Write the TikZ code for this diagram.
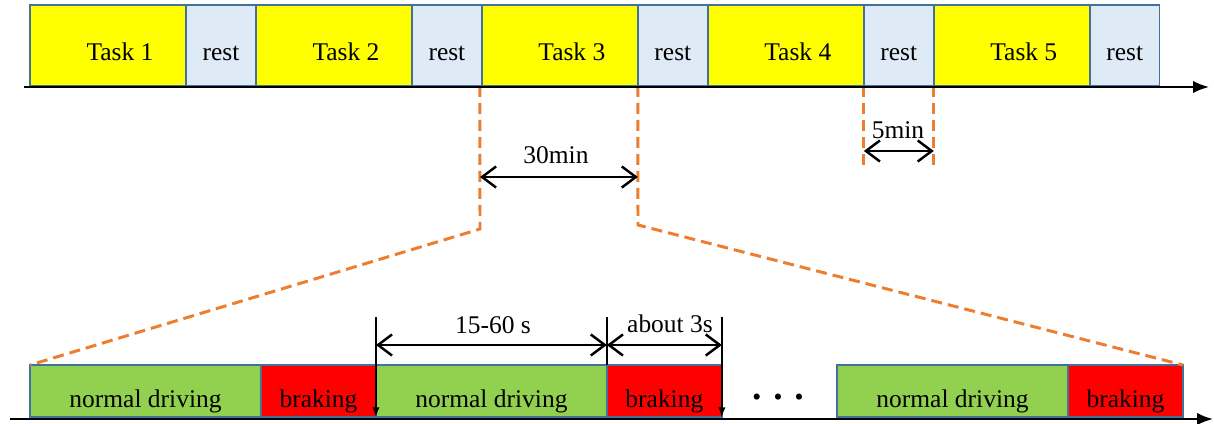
\documentclass[tikz,border=0pt]{standalone}
\usepackage{fontspec}
\setmainfont{Liberation Serif}
\usetikzlibrary{positioning,arrows.meta}

\definecolor{taskyellow}{HTML}{FFFF00}
\definecolor{restblue}{HTML}{DEEBF7}
\definecolor{drivegreen}{HTML}{92D050}
\definecolor{brakered}{HTML}{FF0000}
\definecolor{edgeblue}{HTML}{41719C}
\definecolor{zoomorange}{HTML}{ED7D31}

\tikzset{
  seg/.style={draw=edgeblue, line width=0.8pt, inner sep=0pt, outer sep=0pt,
    anchor=north west, text depth=0pt},
  taskbox/.style={seg, fill=taskyellow, minimum width=3.12cm, minimum height=1.62cm,
    text height=17.4pt, execute at begin node={\hspace*{0.48cm}}},
  restbox/.style={seg, fill=restblue, minimum width=1.4cm, minimum height=1.62cm,
    text height=17.4pt},
  drivebox/.style={seg, fill=drivegreen, minimum width=4.62cm, minimum height=1.04cm,
    text height=19.3pt},
  brakebox/.style={seg, fill=brakered, minimum width=2.3cm, minimum height=1.04cm,
    text height=19.3pt},
  axisline/.style={line width=1.2pt, -{Latex[length=9pt,width=7pt]}},
  dimline/.style={line width=1.4pt, {Straight Barb[length=8pt,width=12pt]}-{Straight Barb[length=8pt,width=12pt]}},
  zoomline/.style={zoomorange, line width=1.7pt, dash pattern=on 0.22cm off 0.12cm},
  marker/.style={line width=0.9pt, -latex}
}

\begin{document}
\begin{tikzpicture}[x=0.02cm, y=-0.02cm, font=\fontsize{14.5}{17}\selectfont]
  \useasboundingbox (0,0) rectangle (1214,423);

  % tasks and rests
  \node[taskbox] (t1) at (30,5) {Task 1};
  \node[restbox, right=0pt of t1] (r1) {rest};
  \node[taskbox, right=0pt of r1] (t2) {Task 2};
  \node[restbox, right=0pt of t2] (r2) {rest};
  \node[taskbox, right=0pt of r2] (t3) {Task 3};
  \node[restbox, right=0pt of t3] (r3) {rest};
  \node[taskbox, right=0pt of r3] (t4) {Task 4};
  \node[restbox, right=0pt of t4] (r4) {rest};
  \node[taskbox, right=0pt of r4] (t5) {Task 5};
  \node[restbox, right=0pt of t5] (r5) {rest};

  % driving and braking
  \node[drivebox] (n1) at (30,365) {normal driving};
  \node[brakebox, right=0pt of n1] (b1) {braking};
  \node[drivebox, right=0pt of b1] (n2) {normal driving};
  \node[brakebox, right=0pt of n2] (b2) {braking};
  \node (dots) at (778,400) {\textbullet\hspace{7pt}\textbullet\hspace{7pt}\textbullet};
  \node[drivebox] (n3) at (837,365) {normal driving};
  \node[brakebox, right=0pt of n3] (b3) {braking};

  % zoom of task 3
  \coordinate (k1) at (480,229);
  \coordinate (k2) at (638,225);
  \draw[zoomline] (t3.south west) ++(-2,0) -- (k1) -- (n1.north west);
  \draw[zoomline] (t3.south east) -- (k2) -- (b3.north east);

  \coordinate (m30) at (0,177);
  \draw[dimline] (k1 |- m30) -- (t3.south east |- m30);
  \node (l30) at (556,155) {30min};

  % rest length
  \coordinate (e5) at (0,170);
  \coordinate (m5) at (0,151);
  \draw[zoomline] (r4.south west) -- (r4.south west |- e5);
  \draw[zoomline] (r4.south east) -- (r4.south east |- e5);
  \draw[dimline] (r4.south west |- m5) -- (r4.south east |- m5);
  \node (l5) at (898,130) {5min};

  % time axes
  \coordinate (a1) at (24,87);
  \coordinate (a2) at (1209,87);
  \draw[axisline] (a1) -- (a2);
  \coordinate (a3) at (10,419);
  \coordinate (a4) at (1213,419);
  \draw[axisline] (a3) -- (a4);

  % one driving and braking cycle
  \coordinate (h) at (0,317);
  \coordinate (dm) at (0,345);
  \draw[marker] (n2.north west |- h) -- (n2.south west);
  \draw[line width=0.9pt] (b2.north west |- h) -- (b2.north west);
  \draw[marker] (b2.north east |- h) -- (b2.south east);
  \draw[dimline] (n2.north west |- dm) -- (n2.north east |- dm);
  \draw[dimline] (b2.north west |- dm) -- (b2.north east |- dm);
  \node (l15) at (493,325) {15-60 s};
  \node (l3) at (670,324) {about 3s};
\end{tikzpicture}
\end{document}
